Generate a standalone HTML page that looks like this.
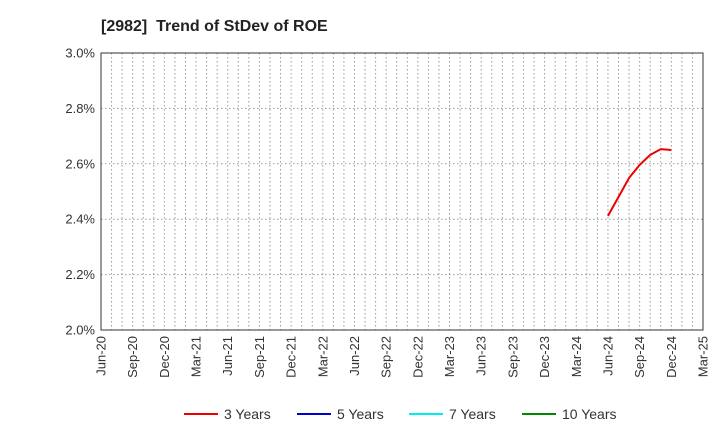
<!DOCTYPE html>
<html><head><meta charset="utf-8"><style>
body{margin:0;background:#fff;font-family:"Liberation Sans",sans-serif}
</style></head><body>
<svg id="c" width="720" height="440" xmlns="http://www.w3.org/2000/svg">
<text x="101" y="31" font-size="16" font-weight="bold" fill="#222" style="white-space:pre">[2982]  Trend of StDev of ROE</text>
<g id="grid"></g><g id="axes"></g><g id="series"></g>
<g id="legend"></g>
</svg>
<script>
const xLabels=["Jun-20","Sep-20","Dec-20","Mar-21","Jun-21","Sep-21","Dec-21","Mar-22","Jun-22","Sep-22","Dec-22","Mar-23","Jun-23","Sep-23","Dec-23","Mar-24","Jun-24","Sep-24","Dec-24","Mar-25"];
const yTicks=[2.0,2.2,2.4,2.6,2.8,3.0];
const s3Months=[48,49,50,51,52,53,54];
const s3Values=[2.412,2.48,2.549,2.596,2.632,2.653,2.650];
const legendNames=["3 Years","5 Years","7 Years","10 Years"];
const legendColors=["#e00","#00c","#0ee","#080"];
const L=101,R=703,T=53,B=330,NS="http://www.w3.org/2000/svg";
const xm=m=>L+(R-L)*m/57, y=v=>B-(v-2)/(1)*(B-T);
function mk(t,a,p){const e=document.createElementNS(NS,t);for(const k in a)e.setAttribute(k,a[k]);p.appendChild(e);return e;}
const g=document.getElementById('grid'),ax=document.getElementById('axes'),se=document.getElementById('series'),lg=document.getElementById('legend');
for(let m=1;m<57;m++){const l=mk('line',{x1:xm(m),x2:xm(m),y1:T,y2:B,stroke:'#999','stroke-dasharray':'1.5,2.5','stroke-width':1},g);
}
yTicks.forEach(v=>{if(v>2&&v<3){const l=mk('line',{x1:L,x2:R,y1:y(v),y2:y(v),stroke:'#999','stroke-dasharray':'1.5,2.5'},g);
}
const t=mk('text',{x:L-6,y:y(v)+4.5,'font-size':13,'text-anchor':'end',fill:'#333'},ax);t.textContent=v.toFixed(1)+'%';
});
const f=mk('rect',{x:L,y:T,width:R-L,height:B-T,fill:'none',stroke:'#333'},ax);

xLabels.forEach((s,i)=>{const x=xm(i*3);const t=mk('text',{x:0,y:0,'font-size':13,'text-anchor':'end',fill:'#333',transform:`translate(${x+4.5},${B+6}) rotate(-90)`},ax);t.textContent=s;
});
const p=mk('polyline',{points:s3Months.map((m,i)=>xm(m)+','+y(s3Values[i])).join(' '),fill:'none',stroke:'#e00','stroke-width':2},se);

const lx=[184,297,409,522];
legendNames.forEach((n,i)=>{const l=mk('line',{x1:lx[i],x2:lx[i]+34,y1:414,y2:414,stroke:legendColors[i],'stroke-width':2},lg);

const t=mk('text',{x:lx[i]+40,y:419,'font-size':14,fill:'#333'},lg);t.textContent=n;
});
</script>
</body></html>
